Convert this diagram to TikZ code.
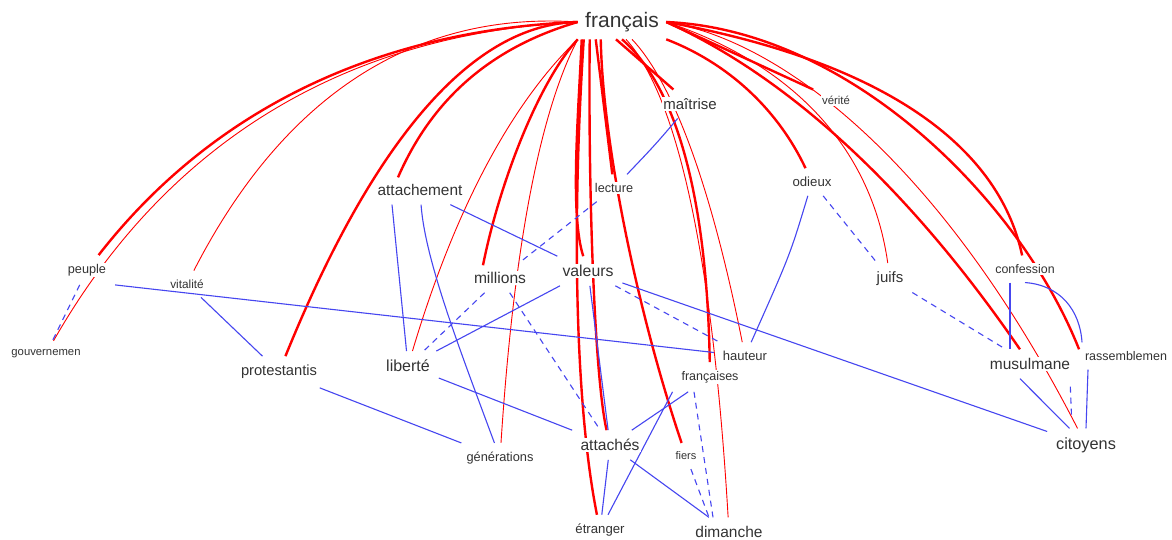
\documentclass[tikz,border=0pt]{standalone}
\usepackage{fontspec}
\setmainfont{Liberation Sans}
\usetikzlibrary{backgrounds}
\definecolor{myred}{RGB}{255,0,0}
\definecolor{myblue}{RGB}{70,70,240}
\begin{document}
\begin{tikzpicture}[x=1pt,y=-1pt,
  lbl/.style={fill=white, inner sep=1.5pt, outer sep=7.5pt, text=black!80},
  fsz/.style={font=\fontsize{#1}{#1}\selectfont},
  rthick/.style={draw=myred, line width=2.4pt},
  rthin/.style={draw=myred, line width=0.9pt},
  bl/.style={draw=myblue, line width=1.1pt},
  bdash/.style={draw=myblue, line width=1.1pt, dash pattern=on 6pt off 5pt}]
\useasboundingbox (0,0) rectangle (1172,540);

% nodes
\node[lbl,fsz=21,outer sep=6pt] (F) at (622,22) {français};
\node[lbl,fsz=15] (maitrise) at (690,104) {maîtrise};
\node[lbl,fsz=11.4] (verite) at (836,100) {vérité};
\node[lbl,fsz=15.4] (attachement) at (420,190) {attachement};
\node[lbl,fsz=12.7] (lecture) at (614,188) {lecture};
\node[lbl,fsz=13.2] (odieux) at (812,182) {odieux};
\node[lbl,fsz=12.7] (peuple) at (87,270) {peuple};
\node[lbl,fsz=11.8] (vitalite) at (187,284) {vitalité};
\node[lbl,fsz=11.3] (gouv) at (46,354) {gouvernemen};
\node[lbl,fsz=14.7] (protest) at (279,372) {protestantis};
\node[lbl,fsz=16] (liberte) at (408,366) {liberté};
\node[lbl,fsz=15.6] (millions) at (500,278) {millions};
\node[lbl,fsz=15.8] (valeurs) at (588,271) {valeurs};
\node[lbl,fsz=15] (juifs) at (890,279) {juifs};
\node[lbl,fsz=12.4] (confession) at (1025,269) {confession};
\node[lbl,fsz=13] (hauteur) at (745,356) {hauteur};
\node[lbl,fsz=12.5] (francaises) at (710,377) {françaises};
\node[lbl,fsz=15.5] (musulmane) at (1030,364) {musulmane};
\node[lbl,fsz=12.5] (rassem) at (1126,356) {rassemblemen};
\node[lbl,fsz=15.6] (attaches) at (610,445) {attachés};
\node[lbl,fsz=12.8] (generations) at (500,458) {générations};
\node[lbl,fsz=11] (fiers) at (686,456) {fiers};
\node[lbl,fsz=16.3] (citoyens) at (1086,445) {citoyens};
\node[lbl,fsz=13.2] (etranger) at (600,530) {étranger};
\node[lbl,fsz=15.5] (dimanche) at (729,532) {dimanche};

\begin{scope}[on background layer]
\fill[white] (0,0) rectangle (1172,540);
% red edges: left bundle
\draw[rthick] (F.west) .. controls (371.8,30.7) and (209,113.3) .. (peuple);
\draw[rthin] (F.west) .. controls (341.8,34) and (165.3,144.7) .. (gouv);
\draw[rthin] (F.west) .. controls (411.8,10.7) and (282.3,98) .. (vitalite);
\draw[rthick] (F.west) .. controls (491.5,47.2) and (432.3,98.5) .. ([xshift=-22pt,yshift=-2pt]attachement.north);
\draw[rthick] (F.west) .. controls (471.8,24) and (373,140.7) .. (protest);
\draw[rthin] (F.south west) .. controls (509.2,105.3) and (453.3,214) .. (liberte);
\draw[rthick] (F.south west) .. controls (540,80) and (500,180) .. ([xshift=-17pt,yshift=-2pt]millions.north);
\draw[rthin] (F.south west) .. controls (538.5,114.7) and (513.3,254) .. (generations);
% vertical bundle
\draw[rthick] ([xshift=4pt]F.south west) .. controls (578,120) and (570,215) .. (valeurs);
\draw[rthick] ([xshift=6pt]F.south west) .. controls (570,250) and (578,420) .. (etranger);
\draw[rthick] ([xshift=12pt]F.south west) .. controls (588,200) and (595,380) .. (attaches);
\draw[rthick] ([xshift=18pt]F.south west) -- (lecture);
\draw[rthick] ([xshift=23pt]F.south west) .. controls (603,150) and (640,320) .. (fiers);
% maitrise bundle
\draw[rthick] ([xshift=-6pt]F.south) -- (maitrise);
\draw[rthick] (F.south) .. controls (677,87) and (707,199) .. (francaises);
\draw[rthin] ([xshift=4pt]F.south) .. controls (678.3,96.7) and (713,260.7) .. (dimanche);
\draw[rthin] ([xshift=10pt]F.south) .. controls (673.7,83.3) and (711.7,188.7) .. (hauteur);
% right bundle
\draw[rthick] (F.south east) .. controls (730.2,64) and (778.7,111.3) .. (odieux);
\draw[rthick] (F.east) -- (verite);
\draw[rthin] (F.east) .. controls (797.5,66) and (872,151.7) .. (juifs);
\draw[rthick] (F.east) .. controls (790.8,78) and (912,192) .. (musulmane);
\draw[rthick] (F.east) .. controls (878.8,60.7) and (998.3,143) .. (confession);
\draw[rthick] (F.east) .. controls (850,30) and (1020,200) .. (musulmane.north east);
\draw[rthin] (F.east) .. controls (780,40) and (940,160) .. (citoyens);

% blue edges
\draw[bdash] (peuple) -- (gouv);
\draw[bl] (peuple.south east) -- (hauteur);
\draw[bl] (vitalite) -- (protest);
\draw[bl] (protest) -- (generations);
\draw[bl] ([xshift=-28pt]attachement.south) -- (liberte);
\draw[bl] (attachement) -- (valeurs);
\draw[bl] (attachement) .. controls (425,260) and (460,350) .. (generations);
\draw[bl] (liberte) -- (attaches);
\draw[bl] (valeurs) -- (liberte);
\draw[bdash] (lecture) -- (millions);
\draw[bdash] (millions) -- (liberte);
\draw[bdash] (millions) -- (attaches);
\draw[bl] (valeurs) -- (attaches);
\draw[bdash] (valeurs) -- (hauteur);
\draw[bl] (valeurs) -- (citoyens);
\draw[bl] (maitrise) .. controls (655,145) .. (lecture);
\draw[bl] (odieux) .. controls (790,255) .. (hauteur);
\draw[bdash] (odieux) -- (juifs);
\draw[bdash] (juifs) -- (musulmane);
\draw[bl] ([xshift=-15pt]confession.south) -- ([xshift=-20pt]musulmane.north);
\draw[bl] (confession.south) .. controls (1060,285) and (1080,310) .. ([xshift=-44pt]rassem.north);
\draw[bl] ([xshift=-10pt]musulmane.south) -- (citoyens);
\draw[bdash, shorten <=8pt, shorten >=12pt] ([xshift=40pt]musulmane.south) -- ([xshift=-14pt]citoyens.north);
\draw[bl] ([xshift=-38pt]rassem.south) -- (citoyens.north);
\draw[bl] (francaises) -- (attaches);
\draw[bl] (francaises.south west) -- (etranger);
\draw[bl] (attaches) -- (etranger);
\draw[bl] (attaches) -- (dimanche);
\draw[bdash] ([xshift=-16pt]francaises.south) -- ([xshift=-16pt]dimanche.north);
\draw[bdash] (fiers) -- ([xshift=-20pt]dimanche.north);
\end{scope}
\end{tikzpicture}
\end{document}
